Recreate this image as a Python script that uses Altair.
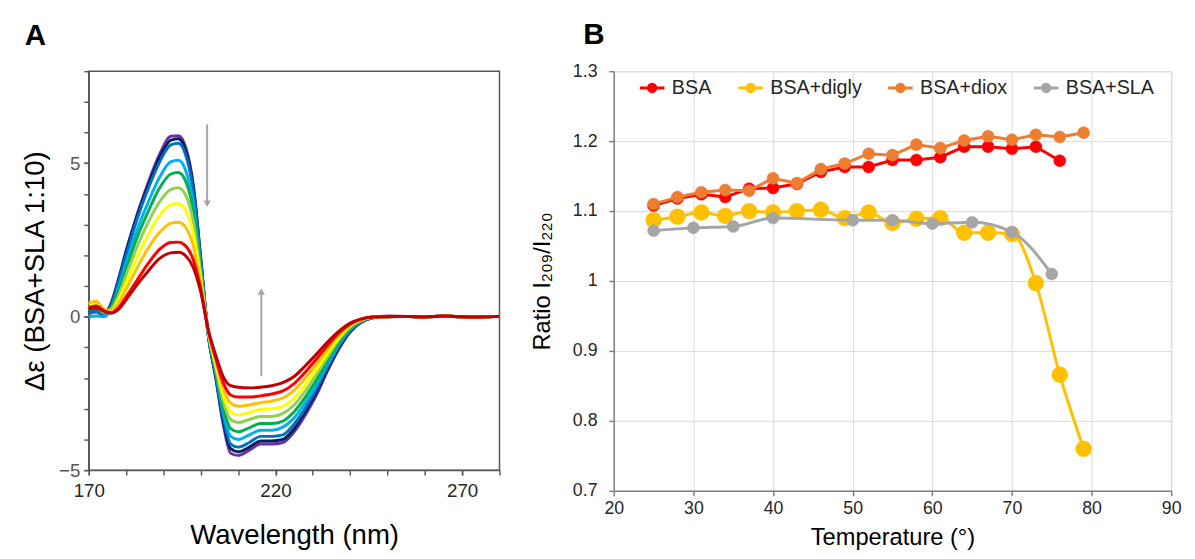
import altair as alt
import pandas as pd

FONT = "Liberation Sans"

# ---------------- Panel A : CD spectra ----------------
WAVELENGTH = [170, 172, 174, 176, 178, 180, 183, 186, 189, 192, 194, 196, 198, 200,
              202, 204, 206, 208, 210, 213, 216, 219, 222, 225, 228, 231, 234, 237,
              240, 243, 246, 250, 255, 260, 265, 270, 275, 280]
TAIL = [0.01, -0.01, 0.02, 0.0, -0.01, 0.01]

CD_PURPLE = [0.10, 0.15, 0.05, 0.45, 1.25, 2.15, 3.35, 4.4, 5.3, 5.88, 5.9, 5.5, 4.3, 1.9,
             -0.6, -2.0, -3.5, -4.45, -4.52, -4.35, -4.15, -4.15, -4.1, -3.75, -3.2, -2.55,
             -1.75, -1.05, -0.5, -0.18, -0.04, 0.02]
CD_NAVY = [0.12, 0.2, 0.08, 0.4, 1.2, 2.1, 3.3, 4.3, 5.2, 5.75, 5.8, 5.4, 4.2, 1.85,
           -0.6, -1.95, -3.4, -4.3, -4.4, -4.25, -4.05, -4.05, -4.0, -3.65, -3.1, -2.45,
           -1.7, -1.0, -0.48, -0.17, -0.04, 0.01]
CD_BLUE = [0.1, 0.18, 0.08, 0.38, 1.15, 2.0, 3.2, 4.2, 5.05, 5.6, 5.65, 5.25, 4.1, 1.8,
           -0.6, -1.9, -3.3, -4.15, -4.25, -4.1, -3.9, -3.9, -3.85, -3.5, -2.98, -2.35,
           -1.62, -0.95, -0.45, -0.16, -0.03, 0.01]
CD_CYAN = [0.0, 0.02, 0.0, 0.25, 0.95, 1.75, 2.85, 3.75, 4.55, 5.05, 5.1, 4.75, 3.7, 1.6,
           -0.55, -1.8, -3.1, -3.9, -4.0, -3.85, -3.7, -3.7, -3.6, -3.3, -2.8, -2.2,
           -1.52, -0.9, -0.42, -0.15, -0.03, 0.0]
CD_GREEN = [0.2, 0.3, 0.12, 0.3, 0.85, 1.55, 2.6, 3.45, 4.2, 4.65, 4.7, 4.4, 3.45, 1.5,
            -0.55, -1.75, -2.95, -3.65, -3.75, -3.62, -3.48, -3.48, -3.4, -3.1, -2.62, -2.05,
            -1.42, -0.84, -0.38, -0.13, -0.02, 0.0]
CD_LIGHTGREEN = [0.3, 0.38, 0.15, 0.25, 0.7, 1.35, 2.3, 3.1, 3.75, 4.15, 4.2, 3.95, 3.1, 1.35,
                 -0.5, -1.65, -2.75, -3.35, -3.45, -3.35, -3.25, -3.25, -3.15, -2.88, -2.42, -1.88,
                 -1.3, -0.75, -0.34, -0.11, -0.02, 0.0]
CD_YELLOW = [0.4, 0.45, 0.2, 0.2, 0.55, 1.1, 1.95, 2.7, 3.3, 3.65, 3.68, 3.45, 2.7, 1.2,
             -0.5, -1.55, -2.55, -3.1, -3.2, -3.12, -3.02, -3.0, -2.92, -2.65, -2.22, -1.72,
             -1.18, -0.68, -0.3, -0.1, -0.02, 0.0]
CD_ORANGE = [0.45, 0.5, 0.25, 0.2, 0.45, 0.9, 1.6, 2.25, 2.75, 3.05, 3.08, 2.9, 2.3, 1.05,
             -0.48, -1.45, -2.35, -2.82, -2.92, -2.88, -2.8, -2.75, -2.65, -2.4, -2.0, -1.55,
             -1.05, -0.6, -0.27, -0.09, -0.02, 0.0]
CD_RED = [0.3, 0.35, 0.2, 0.12, 0.3, 0.65, 1.2, 1.75, 2.2, 2.42, 2.43, 2.3, 1.85, 0.9,
          -0.45, -1.35, -2.15, -2.55, -2.62, -2.62, -2.58, -2.52, -2.42, -2.18, -1.8, -1.38,
          -0.93, -0.53, -0.24, -0.08, -0.01, 0.0]
CD_DARKRED = [0.25, 0.3, 0.18, 0.12, 0.25, 0.55, 1.05, 1.5, 1.9, 2.08, 2.1, 1.98, 1.6, 0.8,
              -0.42, -1.25, -1.95, -2.25, -2.3, -2.32, -2.3, -2.25, -2.15, -1.95, -1.6, -1.22,
              -0.82, -0.47, -0.21, -0.07, -0.01, 0.0]

CURVE_NAMES = ["c01", "c02", "c03", "c04", "c05", "c06", "c07", "c08", "c09", "c10"]
CURVE_VALUES = [CD_PURPLE, CD_NAVY, CD_BLUE, CD_CYAN, CD_GREEN, CD_LIGHTGREEN,
                CD_YELLOW, CD_ORANGE, CD_RED, CD_DARKRED]
CURVE_COLORS = ["#7030A0", "#002060", "#0070C0", "#00B0F0", "#00B050", "#92D050",
                "#FFFF00", "#FFC000", "#FF0000", "#C00000"]

ARROW_X = [201.7, 216.2]
ARROW_FROM = [6.27, -1.94]
ARROW_HEAD = [3.68, 0.82]
ARROW_DIR = ["down", "up"]

# ---------------- Panel B : ratio vs temperature ----------------
TEMP = [25, 28, 31, 34, 37, 40, 43, 46, 49, 52, 55, 58, 61, 64, 67, 70, 73, 76, 79]
BSA = [1.108, 1.118, 1.124, 1.120, 1.132, 1.133, 1.139, 1.156, 1.163, 1.163, 1.173,
       1.173, 1.177, 1.192, 1.192, 1.189, 1.192, 1.172]
DIGLY = [1.087, 1.092, 1.098, 1.093, 1.100, 1.098, 1.100, 1.102, 1.090, 1.098, 1.083,
         1.089, 1.090, 1.069, 1.069, 1.067, 0.997, 0.866, 0.760]
DIOX = [1.110, 1.120, 1.127, 1.130, 1.129, 1.147, 1.140, 1.160, 1.168, 1.182, 1.180,
        1.195, 1.190, 1.201, 1.207, 1.202, 1.209, 1.206, 1.212]
SLA_TEMP = [25, 30, 35, 40, 50, 55, 60, 65, 70, 75]
SLA = [1.072, 1.076, 1.078, 1.090, 1.087, 1.087, 1.082, 1.084, 1.070, 1.010]

SERIES_B = ["BSA", "BSA+digly", "BSA+diox", "BSA+SLA"]
COLORS_B = ["#FF0000", "#FFC000", "#ED7D31", "#A5A5A5"]
SIZES_B = [150, 260, 150, 150]
INTERP_B = ["linear", "monotone", "linear", "monotone"]

X_LABELS_A = [170, 220, 270]
Y_LABELS_A = [-5, 0, 5]
X_TICKS_A = [170, 180, 190, 200, 210, 220, 230, 240, 250, 260, 270, 280]
Y_TICKS_A = [-5, -4, -3, -2, -1, 0, 1, 2, 3, 4, 5, 6, 7, 8]
X_TICKS_B = [20, 30, 40, 50, 60, 70, 80, 90]
Y_TICKS_B = [0.7, 0.8, 0.9, 1.0, 1.1, 1.2, 1.3]

# ---------------- tables ----------------
rows_a = []
for name, vals in zip(CURVE_NAMES, CURVE_VALUES):
    for w, v in zip(WAVELENGTH, vals + TAIL):
        rows_a.append({"wl": w, "de": v, "curve": name})
df_a = pd.DataFrame(rows_a)

df_arrow = pd.DataFrame({"x": ARROW_X, "y0": ARROW_FROM, "y1": ARROW_HEAD, "dir": ARROW_DIR})

rows_b = []
for s, temps, vals in [("BSA", TEMP, BSA), ("BSA+digly", TEMP, DIGLY),
                       ("BSA+diox", TEMP, DIOX), ("BSA+SLA", SLA_TEMP, SLA)]:
    for t, v in zip(temps, vals):
        rows_b.append({"series": s, "T": t, "R": v})
df_b = pd.DataFrame(rows_b)

# ---------------- Panel A chart ----------------
AX_A = "#595959"
scale_xa = alt.Scale(domain=[170, 280], nice=False, zero=False)
scale_ya = alt.Scale(domain=[-5, 8], nice=False, zero=False)

x_a = alt.X("wl:Q", scale=scale_xa,
            axis=alt.Axis(values=X_LABELS_A, orient="bottom", title="Wavelength (nm)", grid=False,
                          domainColor=AX_A, domainWidth=1.5, tickColor=AX_A, tickWidth=1.5,
                          tickSize=5, labelFont=FONT, labelFontSize=19, labelColor="#262626",
                          labelPadding=7, labelFlush=False, labelOverlap=False, titleFont=FONT,
                          titleFontSize=28, titleFontWeight="normal", titleColor="#000000",
                          titlePadding=22))
y_a = alt.Y("de:Q", scale=scale_ya,
            axis=alt.Axis(values=Y_LABELS_A, orient="left", title="Δε (BSA+SLA 1:10)", grid=False,
                          domainColor=AX_A, domainWidth=1.5, tickColor=AX_A, tickWidth=1.5,
                          tickSize=5, labelFont=FONT, labelFontSize=19, labelColor="#595959",
                          labelPadding=4, labelFlush=False, labelOverlap=False, titleFont=FONT,
                          titleFontSize=28, titleFontWeight="normal", titleColor="#000000",
                          titlePadding=9))

lines_a = alt.Chart(df_a).mark_line(strokeWidth=3, interpolate="monotone").encode(
    x=x_a, y=y_a,
    color=alt.Color("curve:N", scale=alt.Scale(domain=CURVE_NAMES, range=CURVE_COLORS), legend=None),
)
# arrows; their axes carry the minor ticks (every 10 nm / every 1 unit)
arrow_lines = alt.Chart(df_arrow).mark_rule(color="#A6A6A6", strokeWidth=2).encode(
    x=alt.X("x:Q", axis=alt.Axis(values=X_TICKS_A, orient="bottom", labels=False, title=None,
                                 domain=False, grid=False, tickColor=AX_A, tickWidth=1.5,
                                 tickSize=5)),
    y=alt.Y("y0:Q", axis=alt.Axis(values=Y_TICKS_A, orient="left", labels=False, title=None,
                                  domain=False, grid=False, tickColor=AX_A, tickWidth=1.5,
                                  tickSize=5)),
    y2="y1:Q")
arrow_heads = alt.Chart(df_arrow).mark_point(filled=True, opacity=1, color="#A6A6A6", size=55).encode(
    x=alt.X("x:Q", axis=None), y=alt.Y("y1:Q", axis=None),
    shape=alt.Shape("dir:N", scale=alt.Scale(domain=["down", "up"], range=["triangle-down", "triangle-up"]),
                    legend=None))

chart_a = alt.layer(lines_a, arrow_lines, arrow_heads).resolve_axis(
    x="independent", y="independent"
).properties(
    width=417, height=405,
    title=alt.TitleParams("A", anchor="start", frame="group", dx=-65, fontSize=30,
                          fontWeight="bold", font=FONT, color="#000000", offset=20),
    view=alt.ViewBackground(stroke=AX_A, strokeWidth=1.5),
)

# ---------------- Panel B chart ----------------
AX_B = "#808080"
GRID_B = "#D9D9D9"
SYMBOL = "M-1,0L1,0M-0.3,0A0.3,0.3,0,1,1,0.3,0A0.3,0.3,0,1,1,-0.3,0Z"
scale_b = alt.Scale(domain=SERIES_B, range=COLORS_B)
legend_b = alt.Legend(orient="none", legendX=558, legendY=3, direction="horizontal",
                      title=None, symbolType=SYMBOL, symbolSize=625, symbolStrokeWidth=3,
                      symbolOpacity=1, labelFont=FONT, labelFontSize=20, labelColor="#262626",
                      labelOffset=6, columnPadding=20)

x_b = alt.X("T:Q", scale=alt.Scale(domain=[20, 90], nice=False, zero=False),
            axis=alt.Axis(values=X_TICKS_B, title="Temperature (°)", grid=True, gridColor=GRID_B,
                          gridWidth=1, domainColor=AX_B, domainWidth=1.5, tickColor=AX_B,
                          tickWidth=1.5, tickSize=5, labelFont=FONT, labelFontSize=18,
                          labelColor="#262626", labelPadding=4, labelFlush=False,
                          labelOverlap=False, titleFont=FONT, titleFontSize=24,
                          titleFontWeight="normal", titleColor="#000000", titlePadding=9))
y_b = alt.Y("R:Q", scale=alt.Scale(domain=[0.7, 1.3], nice=False, zero=False),
            axis=alt.Axis(values=Y_TICKS_B, format=".1~f", title="Ratio I₂₀₉/I₂₂₀", grid=True,
                          gridColor=GRID_B, gridWidth=1, domainColor=AX_B, domainWidth=1.5,
                          tickColor=AX_B, tickWidth=1.5, tickSize=5, labelFont=FONT,
                          labelFontSize=18, labelColor="#262626", labelPadding=12,
                          labelFlush=False, labelOverlap=False, titleFont=FONT,
                          titleFontSize=24, titleFontWeight="normal", titleColor="#000000",
                          titlePadding=18))

layers_b = []
for s, size, interp in zip(SERIES_B, SIZES_B, INTERP_B):
    base = alt.Chart(df_b).transform_filter(alt.datum.series == s)
    layers_b.append(base.mark_line(strokeWidth=3, interpolate=interp).encode(
        x=x_b, y=y_b, color=alt.Color("series:N", scale=scale_b, legend=None)))
    layers_b.append(base.mark_point(filled=True, opacity=1, size=size, strokeWidth=0.5).encode(
        x=x_b, y=y_b,
        fill=alt.Fill("series:N", scale=scale_b, legend=legend_b),
        stroke=alt.Stroke("series:N", scale=scale_b, legend=legend_b)))

chart_b = alt.layer(*layers_b).properties(
    width=566, height=426,
    title=alt.TitleParams("B", anchor="start", frame="group", dx=-31, dy=7, fontSize=30,
                          fontWeight="bold", font=FONT, color="#000000", offset=20),
    view=alt.ViewBackground(stroke=GRID_B, strokeWidth=1),
)

chart = alt.hconcat(chart_a, chart_b, spacing=24).resolve_scale(
    color="independent", shape="independent",
).properties(
    padding={"left": 13, "top": 7, "right": 5, "bottom": 0},
    background="#FFFFFF",
).configure(font=FONT)

chart.save("out.html", embed_options={"renderer": "svg", "actions": False})
